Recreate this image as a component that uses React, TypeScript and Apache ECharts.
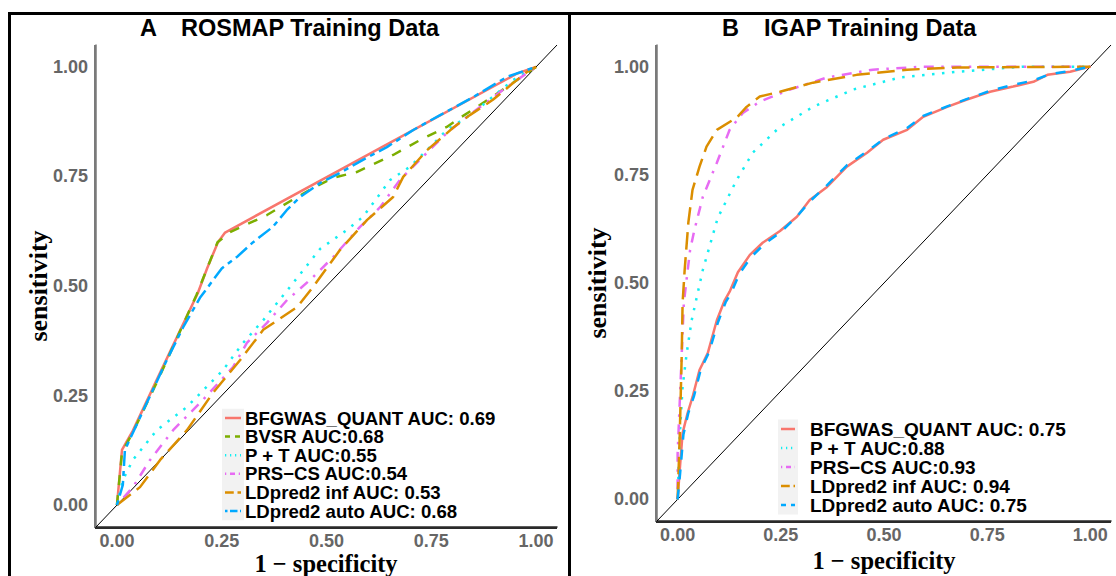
import React, { useEffect, useRef } from "react";
import * as echarts from "echarts";

// ---------- Data (1 - specificity, sensitivity) ----------
const tickValues = [0, 0.25, 0.5, 0.75, 1];
const axisMin = -0.05;
const axisMax = 1.05;

const panelTitles = ["ROSMAP Training Data", "IGAP Training Data"];
const panelLetters = ["A", "B"];

const rosmapNames = [
  "BFGWAS_QUANT AUC: 0.69",
  "BVSR AUC:0.68",
  "P + T AUC:0.55",
  "PRS\u2212CS AUC:0.54",
  "LDpred2 inf AUC: 0.53",
  "LDpred2 auto AUC: 0.68",
];
const igapNames = [
  "BFGWAS_QUANT AUC: 0.75",
  "P + T AUC:0.88",
  "PRS\u2212CS AUC:0.93",
  "LDpred2 inf AUC: 0.94",
  "LDpred2 auto AUC: 0.75",
];

const rosmapBfgwas = [
  [0, 0], [0.012, 0.126], [0.038, 0.17], [0.098, 0.292], [0.193, 0.484], [0.215, 0.54],
  [0.241, 0.6], [0.258, 0.622], [0.955, 0.985], [1, 1],
];
const rosmapBvsr = [
  [0, 0], [0.012, 0.12], [0.04, 0.17], [0.1, 0.29], [0.19, 0.48], [0.215, 0.54], [0.24, 0.6],
  [0.27, 0.623], [0.358, 0.662], [0.43, 0.703], [0.468, 0.724], [0.516, 0.747], [0.572, 0.76],
  [0.659, 0.799], [0.723, 0.833], [0.787, 0.863], [0.819, 0.884], [0.866, 0.913], [0.938, 0.959], [1, 1],
];
const rosmapPt = [
  [0, 0], [0.014, 0.057], [0.038, 0.103], [0.095, 0.171], [0.167, 0.224], [0.253, 0.308],
  [0.301, 0.37], [0.349, 0.422], [0.413, 0.498], [0.485, 0.585], [0.549, 0.628], [0.587, 0.658],
  [0.652, 0.742], [0.699, 0.772], [0.747, 0.817], [0.787, 0.856], [0.85, 0.895], [0.907, 0.94],
  [0.945, 0.97], [1, 1],
];
const rosmapPrscs = [
  [0, 0], [0.038, 0.041], [0.079, 0.103], [0.134, 0.171], [0.205, 0.24], [0.277, 0.315],
  [0.31, 0.37], [0.358, 0.416], [0.406, 0.468], [0.461, 0.514], [0.516, 0.566], [0.58, 0.635],
  [0.628, 0.68], [0.675, 0.742], [0.73, 0.795], [0.787, 0.849], [0.835, 0.886], [0.89, 0.925],
  [0.93, 0.954], [1, 1],
];
const rosmapLdInf = [
  [0, 0], [0.055, 0.041], [0.103, 0.103], [0.167, 0.171], [0.229, 0.256], [0.294, 0.331],
  [0.349, 0.4], [0.43, 0.452], [0.468, 0.498], [0.532, 0.582], [0.597, 0.651], [0.659, 0.703],
  [0.683, 0.749], [0.74, 0.81], [0.802, 0.861], [0.842, 0.89], [0.897, 0.925], [0.945, 0.963],
  [0.979, 0.989], [1, 1],
];
const rosmapLdAuto = [
  [0, 0], [0.014, 0.046], [0.019, 0.126], [0.055, 0.2], [0.119, 0.331], [0.158, 0.406],
  [0.198, 0.473], [0.25, 0.54], [0.286, 0.566], [0.325, 0.6], [0.372, 0.635], [0.405, 0.673],
  [0.437, 0.703], [0.485, 0.735], [0.532, 0.758], [0.587, 0.788], [0.644, 0.817], [0.707, 0.856],
  [0.771, 0.89], [0.85, 0.931], [0.93, 0.977], [1, 1],
];

const igapBfgwas = [
  [0, 0], [0.005, 0.067], [0.012, 0.153], [0.024, 0.199], [0.036, 0.236], [0.053, 0.299],
  [0.073, 0.338], [0.095, 0.414], [0.114, 0.46], [0.126, 0.48], [0.146, 0.525], [0.175, 0.565],
  [0.206, 0.593], [0.248, 0.62], [0.289, 0.653], [0.32, 0.692], [0.362, 0.722], [0.41, 0.769],
  [0.459, 0.801], [0.498, 0.831], [0.556, 0.854], [0.595, 0.884], [0.653, 0.907], [0.701, 0.924],
  [0.757, 0.942], [0.813, 0.954], [0.862, 0.965], [0.896, 0.981], [0.951, 0.988], [1, 1],
];
const igapPt = [
  [0, 0], [0.005, 0.144], [0.012, 0.26], [0.022, 0.338], [0.034, 0.414], [0.061, 0.53],
  [0.097, 0.65], [0.143, 0.738], [0.182, 0.801], [0.248, 0.861], [0.328, 0.907], [0.425, 0.947],
  [0.539, 0.975], [0.677, 0.988], [0.837, 1], [1, 1],
];
const igapPrscs = [
  [0, 0], [0, 0.106], [0.005, 0.222], [0.01, 0.338], [0.015, 0.454], [0.03, 0.575], [0.04, 0.62],
  [0.061, 0.699], [0.095, 0.778], [0.126, 0.854], [0.158, 0.893], [0.199, 0.919], [0.272, 0.947],
  [0.362, 0.975], [0.473, 0.993], [0.595, 1], [1, 1],
];
const igapLdInf = [
  [0, 0], [0.005, 0.144], [0.01, 0.338], [0.012, 0.454], [0.017, 0.53], [0.026, 0.64],
  [0.036, 0.715], [0.053, 0.769], [0.07, 0.815], [0.095, 0.854], [0.143, 0.882], [0.167, 0.907],
  [0.199, 0.931], [0.248, 0.942], [0.328, 0.963], [0.434, 0.981], [0.556, 0.993], [0.677, 0.998], [1, 1],
];
const igapLdAuto = [
  [0, 0], [0.006, 0.06], [0.014, 0.15], [0.026, 0.2], [0.04, 0.24], [0.056, 0.3], [0.076, 0.34],
  [0.098, 0.41], [0.116, 0.455], [0.13, 0.478], [0.15, 0.522], [0.178, 0.56], [0.21, 0.59],
  [0.25, 0.618], [0.29, 0.655], [0.322, 0.69], [0.36, 0.724], [0.41, 0.772], [0.46, 0.805],
  [0.5, 0.833], [0.556, 0.858], [0.595, 0.886], [0.653, 0.908], [0.7, 0.925], [0.757, 0.944],
  [0.813, 0.958], [0.862, 0.968], [0.9, 0.982], [0.951, 0.99], [1, 1],
];

const diagonal = [[axisMin, axisMin], [axisMax, axisMax]];

// ---------- layout ----------
const GRIDS = [
  { left: 96, top: 45, width: 461, height: 482 },
  { left: 657, top: 45, width: 454, height: 476 },
];

// ---------- styles ----------
const C_RED = "#F8766D";
const C_GREEN = "#7CAE00";
const C_CYAN = "#14EEF2";
const C_MAGENTA = "#E76BF3";
const C_ORANGE = "#DB8E00";
const C_BLUE = "#00A9FF";

const LW = 2.5;
const DASH_SOLID: any = "solid";
const DASH_DASHED = [10, 10];
const DASH_DOTTED = [2.5, 7.5];
const DASH_DOTDASH = [2.5, 7.5, 10, 7.5];
const DASH_LONG = [17.5, 7.5];
const DASH_TWODASH = [5, 5, 15, 5];

const rosmapSeries = [
  { data: rosmapBfgwas, color: C_RED, dash: DASH_SOLID },
  { data: rosmapBvsr, color: C_GREEN, dash: DASH_DASHED },
  { data: rosmapPt, color: C_CYAN, dash: DASH_DOTTED },
  { data: rosmapPrscs, color: C_MAGENTA, dash: DASH_DOTDASH },
  { data: rosmapLdInf, color: C_ORANGE, dash: DASH_LONG },
  { data: rosmapLdAuto, color: C_BLUE, dash: DASH_TWODASH },
];
const igapSeries = [
  { data: igapBfgwas, color: C_RED, dash: DASH_SOLID },
  { data: igapPt, color: C_CYAN, dash: DASH_DOTTED },
  { data: igapPrscs, color: C_MAGENTA, dash: DASH_DOTDASH },
  { data: igapLdInf, color: C_ORANGE, dash: DASH_LONG },
  { data: igapLdAuto, color: C_BLUE, dash: DASH_DASHED },
];

const SANS = "'Liberation Sans', Arial, sans-serif";
const SERIF = "'Liberation Serif', 'Times New Roman', serif";

function makeAxes(idx: number) {
  const label = {
    customValues: tickValues,
    formatter: (v: number) => v.toFixed(2),
    color: "#666666",
    fontWeight: "bold" as const,
    fontSize: 18,
    fontFamily: SANS,
  };
  const x = {
    type: "value",
    gridIndex: idx,
    position: "bottom",
    min: axisMin,
    max: axisMax,
    axisLine: { show: true, onZero: false, lineStyle: { color: "#2a2a2a", width: 1.5 } },
    axisTick: { show: false },
    splitLine: { show: false },
    axisLabel: { ...label, margin: 5 },
  };
  const y = {
    type: "value",
    gridIndex: idx,
    position: "left",
    min: axisMin,
    max: axisMax,
    axisLine: { show: true, onZero: false, lineStyle: { color: "#7a7a7a", width: 1.5 } },
    axisTick: { show: false },
    splitLine: { show: false },
    axisLabel: { ...label, margin: 8 },
  };
  return { x, y };
}

function legendGraphics(
  names: string[],
  series: { color: string; dash: any }[],
  keyX: number,
  keyW: number,
  textX: number,
  y0: number,
  dy: number,
  fontPx: number
) {
  const els: any[] = [];
  els.push({
    type: "rect",
    shape: { x: keyX, y: y0 - dy / 2, width: keyW, height: dy * names.length },
    style: { fill: "#F2F2F2" },
    silent: true,
  });
  names.forEach((n, i) => {
    const cy = y0 + i * dy;
    els.push({
      type: "line",
      shape: { x1: keyX + 3, y1: cy, x2: keyX + keyW - 3, y2: cy },
      style: {
        stroke: series[i].color,
        lineWidth: LW,
        lineDash: series[i].dash === "solid" ? null : series[i].dash.map((d: number) => d * 0.5),
      },
      silent: true,
    });
    els.push({
      type: "text",
      x: textX,
      y: cy,
      style: {
        text: n,
        font: `bold ${fontPx}px ${SANS}`,
        fill: "#000000",
        textAlign: "left",
        textVerticalAlign: "middle",
        lineHeight: dy - 0.5,
      },
      silent: true,
    });
  });
  return els;
}

export default function App() {
  const ref = useRef<HTMLDivElement>(null);
  useEffect(() => {
    if (!ref.current) return;
    const chart = echarts.init(ref.current, null, { renderer: "svg" });
    const a0 = makeAxes(0);
    const a1 = makeAxes(1);

    const series: any[] = [];
    [0, 1].forEach((g) => {
      series.push({
        type: "line",
        xAxisIndex: g,
        yAxisIndex: g,
        data: diagonal,
        symbol: "none",
        silent: true,
        lineStyle: { color: "#000000", width: 1 },
        z: 1,
      });
    });
    rosmapSeries.forEach((s) =>
      series.push({
        type: "line",
        xAxisIndex: 0,
        yAxisIndex: 0,
        data: s.data,
        symbol: "none",
        silent: true,
        lineStyle: { color: s.color, width: LW, type: s.dash, cap: "butt" },
        z: 2,
      })
    );
    igapSeries.forEach((s) =>
      series.push({
        type: "line",
        xAxisIndex: 1,
        yAxisIndex: 1,
        data: s.data,
        symbol: "none",
        silent: true,
        lineStyle: { color: s.color, width: LW, type: s.dash, cap: "butt" },
        z: 2,
      })
    );

    // axis lines (decoration along the plot frame, slightly outside the plot)
    const axisLines: any[] = [];
    GRIDS.forEach((gr) => {
      axisLines.push({
        type: "line",
        z: 100,
        shape: { x1: gr.left - 1, y1: gr.top, x2: gr.left - 1, y2: gr.top + gr.height + 1 },
        style: { stroke: "#7a7a7a", lineWidth: 2 },
        silent: true,
      });
      axisLines.push({
        type: "line",
        z: 100,
        shape: { x1: gr.left - 1, y1: gr.top + gr.height + 1, x2: gr.left + gr.width, y2: gr.top + gr.height + 1 },
        style: { stroke: "#2a2a2a", lineWidth: 2 },
        silent: true,
      });
    });

    const titleFont = `bold 23.5px ${SANS}`;
    const graphic: any[] = [
      // panel borders
      {
        type: "rect",
        shape: { x: 9.5, y: 13.5, width: 560, height: 600 },
        style: { fill: "none", stroke: "#000", lineWidth: 3 },
        silent: true,
      },
      {
        type: "rect",
        shape: { x: 569.5, y: 13.5, width: 600, height: 600 },
        style: { fill: "none", stroke: "#000", lineWidth: 3 },
        silent: true,
      },
      ...axisLines,
      // titles
      {
        type: "text",
        x: 140,
        y: 28,
        style: { text: panelLetters[0], font: titleFont, fill: "#000", textVerticalAlign: "middle" },
      },
      {
        type: "text",
        x: 181,
        y: 28,
        style: { text: panelTitles[0], font: titleFont, fill: "#000", textVerticalAlign: "middle" },
      },
      {
        type: "text",
        x: 722,
        y: 28,
        style: { text: panelLetters[1], font: titleFont, fill: "#000", textVerticalAlign: "middle" },
      },
      {
        type: "text",
        x: 764,
        y: 28,
        style: { text: panelTitles[1], font: titleFont, fill: "#000", textVerticalAlign: "middle" },
      },
      // axis titles
      {
        type: "text",
        x: 326,
        y: 563,
        style: { text: "1 \u2212 specificity", font: `bold 24.5px ${SERIF}`, fill: "#000", textAlign: "center", textVerticalAlign: "middle", lineHeight: 20 },
      },
      {
        type: "text",
        x: 884,
        y: 560,
        style: { text: "1 \u2212 specificity", font: `bold 24.5px ${SERIF}`, fill: "#000", textAlign: "center", textVerticalAlign: "middle", lineHeight: 20 },
      },
      {
        type: "text",
        x: 38,
        y: 286,
        rotation: Math.PI / 2,
        style: { text: "sensitivity", font: `bold 26px ${SERIF}`, fill: "#000", textAlign: "center", textVerticalAlign: "middle" },
      },
      {
        type: "text",
        x: 597,
        y: 283,
        rotation: Math.PI / 2,
        style: { text: "sensitivity", font: `bold 26px ${SERIF}`, fill: "#000", textAlign: "center", textVerticalAlign: "middle" },
      },
      ...legendGraphics(rosmapNames, rosmapSeries, 222, 22, 245, 418, 18.6, 18.6),
      ...legendGraphics(igapNames, igapSeries, 778, 20, 810, 429, 19, 19),
    ];

    chart.setOption({
      animation: false,
      backgroundColor: "#ffffff",
      grid: GRIDS.map((g) => ({ ...g, containLabel: false })),
      xAxis: [a0.x, a1.x],
      yAxis: [a0.y, a1.y],
      series,
      graphic,
    });

    return () => chart.dispose();
  }, []);

  return (
    <div
      ref={ref}
      style={{ position: "absolute", left: 0, top: 0, width: 1116, height: 576, background: "#fff" }}
    />
  );
}
